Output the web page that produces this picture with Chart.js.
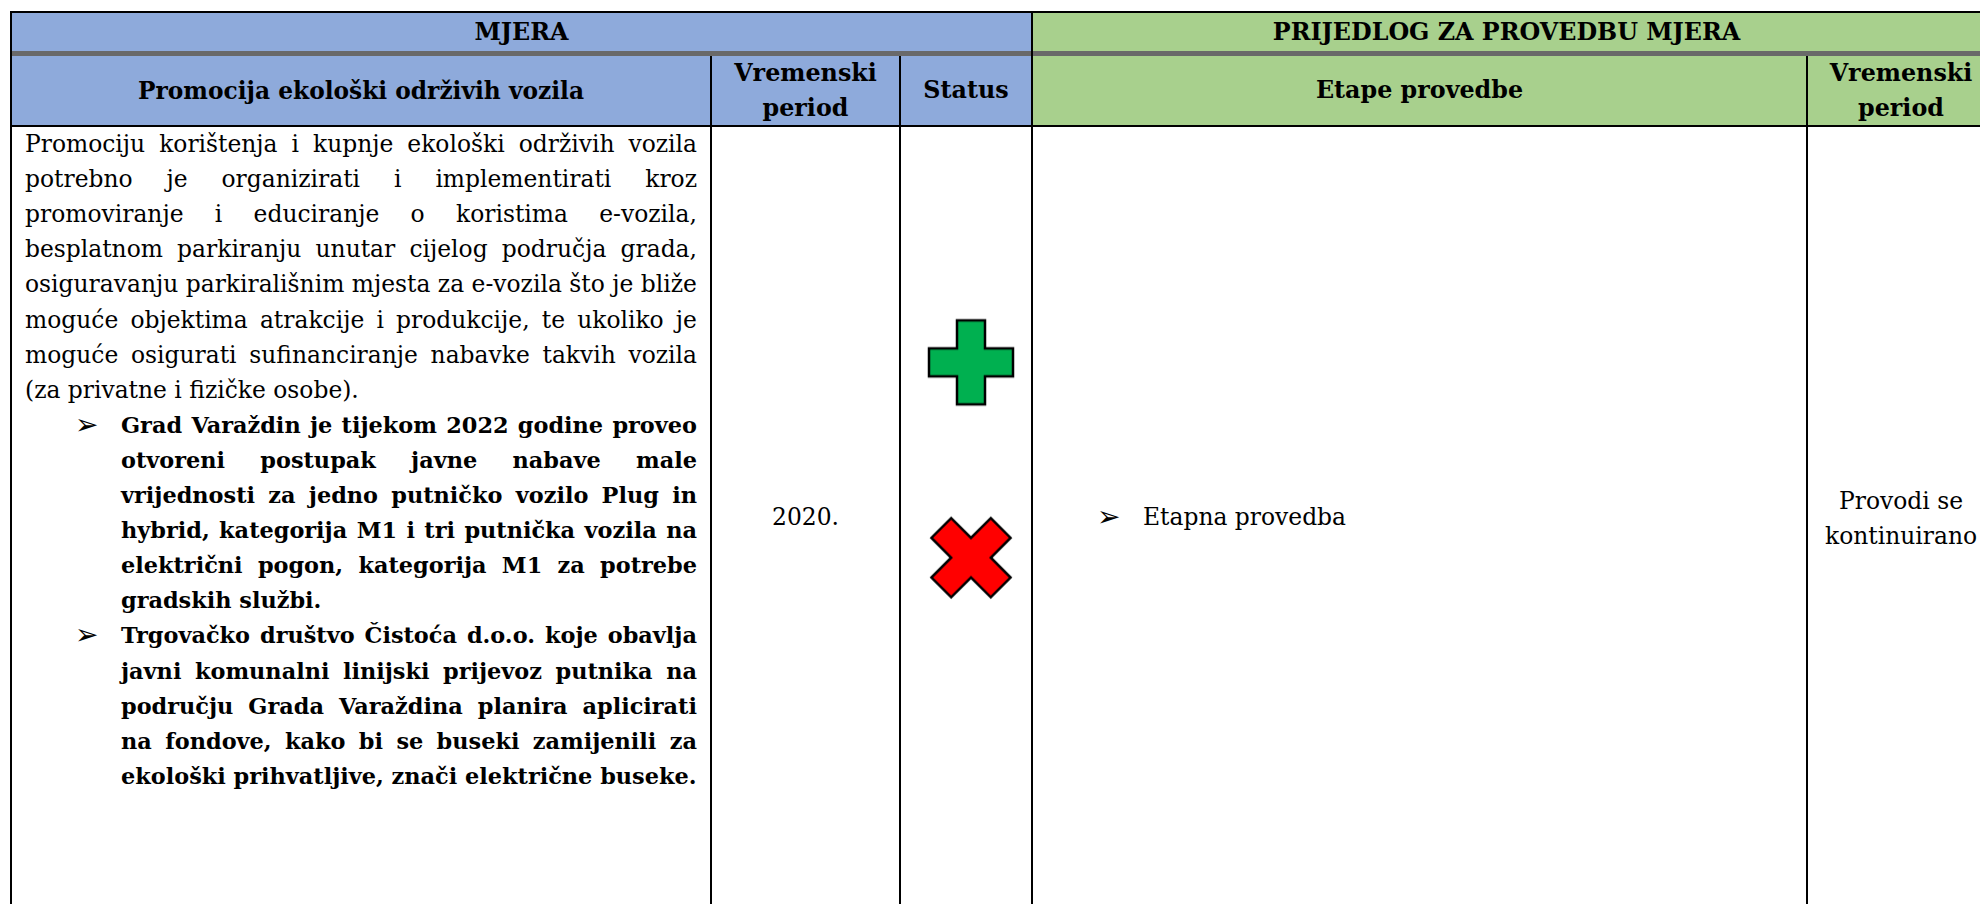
<!DOCTYPE html>
<html>
<head>
<meta charset="utf-8">
<title>Promocija ekološki održivih vozila</title>
<script src="https://cdn.jsdelivr.net/npm/chart.js@4.4.1/dist/chart.umd.min.js"></script>
<style>
  body { margin: 0; background: #fff; }
  #page {
    position: relative; width: 1980px; height: 904px; overflow: hidden;
    font-family: "DejaVu Serif", serif; font-size: 23.4px; color: #000;
  }
  .box { position: absolute; }
  .blue { background: #8eaadb; }
  .green { background: #a8d08d; }
  .rule { position: absolute; background: #000; }
  .hdr {
    position: absolute; display: flex; align-items: center; justify-content: center;
    text-align: center; font-weight: bold; line-height: 35px; font-size: 23.8px;
  }
  .line { position: absolute; height: 35.1px; line-height: 35.1px; white-space: nowrap; }
  .just { display: flex; justify-content: space-between; }
  .bold { font-weight: bold; font-size: 22.4px; }
  .arrow { position: absolute; font-family: "DejaVu Sans", sans-serif; font-size: 28px; line-height: 35.1px; }
  .cell { position: absolute; text-align: center; line-height: 35px; }
  #statusChart { position: absolute; left: 911px; top: 162px; }
</style>
</head>
<body>
<div id="page">
  <!-- header fills -->
  <div class="box blue" style="left:12px;top:13px;width:1019px;height:38px"></div>
  <div class="box green" style="left:1033px;top:13px;width:960px;height:38px"></div>
  <div class="box blue" style="left:12px;top:56px;width:1019px;height:69px"></div>
  <div class="box green" style="left:1033px;top:56px;width:960px;height:69px"></div>
  <div class="box" style="left:10px;top:51px;width:1990px;height:5px;background:#696969"></div>

  <!-- grid lines -->
  <div class="rule" style="left:10px;top:11px;width:1990px;height:2px"></div>
  <div class="rule" style="left:10px;top:125px;width:1990px;height:2px"></div>
  <div class="rule" style="left:10px;top:11px;width:2px;height:900px"></div>
  <div class="rule" style="left:710px;top:56px;width:2px;height:860px"></div>
  <div class="rule" style="left:899px;top:56px;width:2px;height:860px"></div>
  <div class="rule" style="left:1031px;top:11px;width:2px;height:900px"></div>
  <div class="rule" style="left:1806px;top:56px;width:2px;height:860px"></div>

  <!-- header text -->
  <div class="hdr" style="left:12px;top:13px;width:1019px;height:38px">MJERA</div>
  <div class="hdr" style="left:1033px;top:13px;width:947px;height:38px">PRIJEDLOG ZA PROVEDBU MJERA</div>
  <div class="hdr" style="left:12px;top:56px;width:698px;height:69px;font-size:23.3px">Promocija ekološki održivih vozila</div>
  <div class="hdr" style="left:712px;top:56px;width:187px;height:69px">Vremenski<br>period</div>
  <div class="hdr" style="left:901px;top:56px;width:130px;height:69px">Status</div>
  <div class="hdr" style="left:1033px;top:56px;width:773px;height:69px">Etape provedbe</div>
  <div class="hdr" style="left:1808px;top:56px;width:186px;height:69px">Vremenski<br>period</div>

  <div id="body"></div>

  <div class="cell" style="left:712px;top:500px;width:187px">2020.</div>
  <div class="arrow" style="left:1097px;top:499px">➢</div>
  <div class="line" style="left:1143px;top:500px">Etapna provedba</div>
  <div class="cell" style="left:1808px;top:484px;width:186px">Provodi se<br>kontinuirano</div>

  <canvas id="statusChart" width="120" height="596"></canvas>
</div>

<script>
const introLines = [
  "Promociju korištenja i kupnje ekološki održivih vozila",
  "potrebno je organizirati i implementirati kroz",
  "promoviranje i educiranje o koristima e-vozila,",
  "besplatnom parkiranju unutar cijelog područja grada,",
  "osiguravanju parkirališnim mjesta za e-vozila što je bliže",
  "moguće objektima atrakcije i produkcije, te ukoliko je",
  "moguće osigurati sufinanciranje nabavke takvih vozila",
  "(za privatne i fizičke osobe)."
];
const bullet1Lines = [
  "Grad Varaždin je tijekom 2022 godine proveo",
  "otvoreni postupak javne nabave male",
  "vrijednosti za jedno putničko vozilo Plug in",
  "hybrid, kategorija M1 i tri putnička vozila na",
  "električni pogon, kategorija M1 za potrebe",
  "gradskih službi."
];
const bullet2Lines = [
  "Trgovačko društvo Čistoća d.o.o. koje obavlja",
  "javni komunalni linijski prijevoz putnika na",
  "području Grada Varaždina planira aplicirati",
  "na fondove, kako bi se buseki zamijenili za",
  "ekološki prihvatljive, znači električne buseke."
];

// status column: plus = provedeno, cross = nije provedeno
const statusMarks = ["plus", "cross"];
const statusRows = [1, 2];
const statusColors = ["#00b050", "#ff0000"];

const LINE_H = 35.1;
const BODY_TOP = 127;
const body = document.getElementById("body");
let row = 0;

function addLines(lines, left, width, bold) {
  lines.forEach((text, i) => {
    const div = document.createElement("div");
    div.className = "line" + (bold ? " bold" : "");
    div.style.left = left + "px";
    div.style.width = width + "px";
    div.style.top = (BODY_TOP + row * LINE_H) + "px";
    if (i < lines.length - 1) {
      div.classList.add("just");
      text.split(" ").forEach(w => {
        const s = document.createElement("span");
        s.textContent = w;
        div.appendChild(s);
      });
    } else {
      div.textContent = text;
    }
    body.appendChild(div);
    row++;
  });
}

function addArrow() {
  const a = document.createElement("div");
  a.className = "arrow";
  a.textContent = "➢";
  a.style.left = "75px";
  a.style.top = (BODY_TOP + row * LINE_H - 1) + "px";
  body.appendChild(a);
}

addLines(introLines, 25, 672, false);
addArrow();
addLines(bullet1Lines, 121, 576, true);
addArrow();
addLines(bullet2Lines, 121, 576, true);

function markImage(kind, color) {
  const size = 92;
  const c = document.createElement("canvas");
  c.width = size;
  c.height = size;
  const g = c.getContext("2d");
  g.translate(size / 2, size / 2);
  if (kind === "cross") g.rotate(Math.PI / 4);
  const L = 42, w = 14;
  g.beginPath();
  g.moveTo(-w, -L); g.lineTo(w, -L); g.lineTo(w, -w); g.lineTo(L, -w);
  g.lineTo(L, w); g.lineTo(w, w); g.lineTo(w, L); g.lineTo(-w, L);
  g.lineTo(-w, w); g.lineTo(-L, w); g.lineTo(-L, -w); g.lineTo(-w, -w);
  g.closePath();
  g.fillStyle = color;
  g.fill();
  g.lineWidth = 2.5;
  g.strokeStyle = "#000";
  g.stroke();
  return c;
}

new Chart(document.getElementById("statusChart"), {
  type: "scatter",
  data: {
    datasets: [{
      data: statusRows.map(y => ({ x: 1, y })),
      pointStyle: statusMarks.map((m, i) => markImage(m, statusColors[i])),
      clip: false
    }]
  },
  options: {
    responsive: false,
    animation: false,
    events: [],
    layout: { padding: 0 },
    plugins: { legend: { display: false }, tooltip: { enabled: false } },
    scales: {
      x: { display: false, min: 0, max: 2 },
      y: { display: false, min: 0, max: 3, reverse: true }
    }
  }
});
</script>
</body>
</html>
